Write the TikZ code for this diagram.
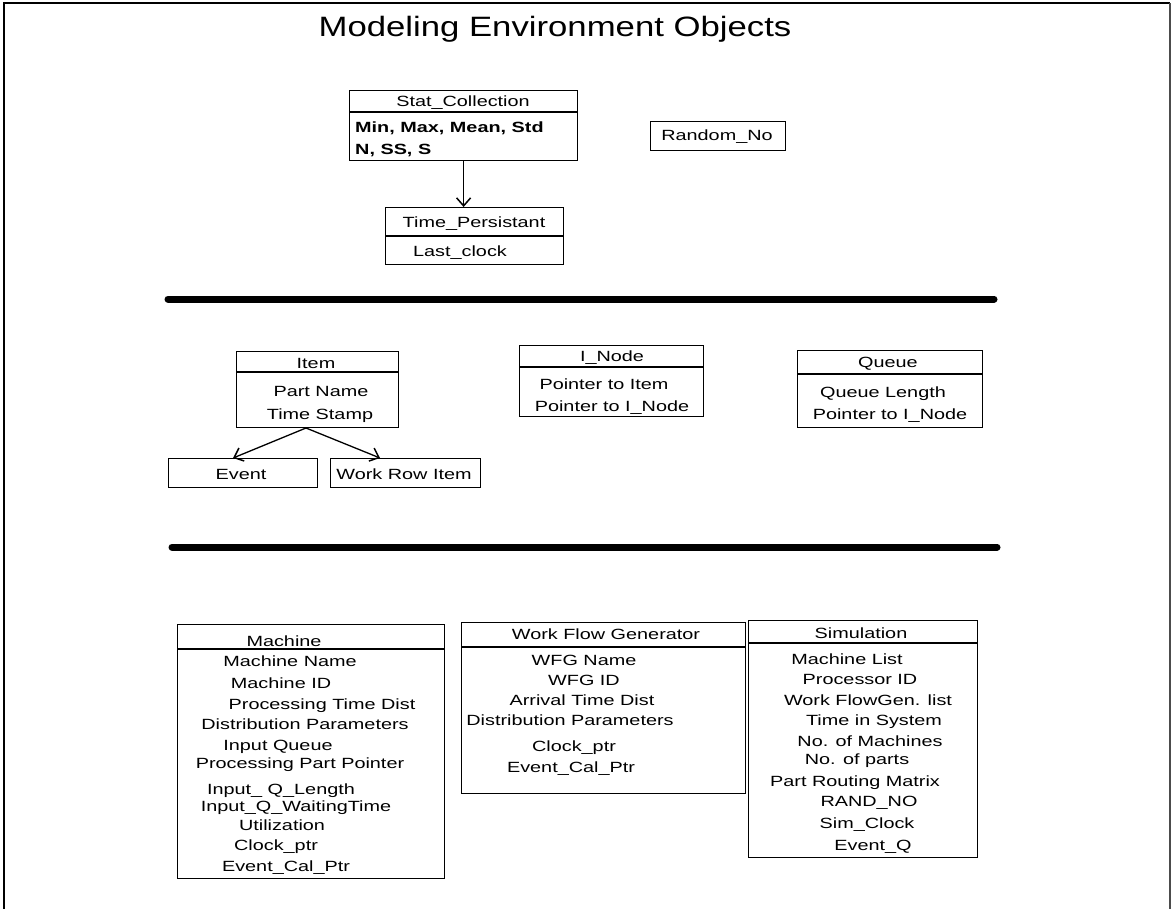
\documentclass[tikz,border=0pt]{standalone}
\usepackage{fontspec}
\setmainfont{Liberation Sans}
\newfontfamily\widefont[FakeStretch=1.34]{Liberation Sans}
\newfontfamily\headfont[FakeStretch=1.24]{Liberation Sans}
\usetikzlibrary{arrows.meta,calc}

\begin{document}
\begin{tikzpicture}[x=1pt,y=-1pt,
  cls/.style={draw, line width=1.2pt, inner sep=0pt, anchor=north west},
  rule/.style={line width=1.2pt},
  txt/.style={inner sep=0pt, anchor=base, font=\widefont\fontsize{14.8}{17}\selectfont},
  ltxt/.style={txt, anchor=base west, font=\widefont\bfseries\fontsize{14.8}{17}\selectfont},
  arr/.style={line width=1.5pt, -{Straight Barb[length=8pt,width=14pt,line width=1.5pt]}},
  sepline/.style={line width=7pt, line cap=round},
  frameline/.style={line width=1.4pt}
]
\useasboundingbox (0,0) rectangle (1172,909);

% page frame
\draw[frameline] (4,909) -- (4,3) -- (1170,3);
\draw[frameline, black!70] (1170,3) -- (1170,909);

% title
\node[inner sep=0pt, anchor=base, font=\headfont\fontsize{28}{32}\selectfont] (title) at (555,37) {Modeling Environment Objects};

% ---------------- statistics objects ----------------
\node[cls, minimum width=228pt, minimum height=70pt] (sc) at (349,90) {};
\draw[rule] ($(sc.north west)+(0,22)$) -- ($(sc.north east)+(0,22)$);
\node[txt] (sc-h) at (463,107) {Stat\_Collection};
\node[ltxt] (sc-a) at (355,133) {Min, Max, Mean, Std};
\node[ltxt] (sc-b) at (355,155) {N, SS, S};

\node[cls, minimum width=178pt, minimum height=57pt] (tp) at (385,207) {};
\draw[rule] ($(tp.north west)+(0,29)$) -- ($(tp.north east)+(0,29)$);
\node[txt] (tp-h) at (474,228) {Time\_Persistant};
\node[txt] (tp-a) at (460,257) {Last\_clock};

\draw[arr] (sc.south) -- (sc.south |- tp.north);

\node[cls, minimum width=135pt, minimum height=29pt] (rn) at (650,121) {};
\node[txt] (rn-h) at (717,141) {Random\_No};

\draw[sepline] (168,299) -- (994,299);

% ---------------- item objects ----------------
\node[cls, minimum width=162pt, minimum height=76pt] (item) at (236,351) {};
\draw[rule] ($(item.north west)+(0,21)$) -- ($(item.north east)+(0,21)$);
\node[txt] (item-h) at (316,368) {Item};
\node[txt] (item-a) at (321,396) {Part Name};
\node[txt] (item-b) at (320,419) {Time Stamp};

\node[cls, minimum width=149pt, minimum height=29pt] (ev) at (168,458) {};
\node[txt] (ev-h) at (241,479) {Event};
\node[cls, minimum width=150pt, minimum height=29pt] (wfi) at (330,458) {};
\node[txt] (wfi-h) at (404,479) {Work Row Item};

\coordinate (fork) at (306,428);
\draw[arr, line width=1.3pt] (fork) -- ($(ev.north)+(-10,0)$);
\draw[arr, line width=1.3pt] (fork) -- ($(wfi.north west)+(50,0)$);

\node[cls, minimum width=184pt, minimum height=71pt] (inode) at (519,345) {};
\draw[rule] ($(inode.north west)+(0,22)$) -- ($(inode.north east)+(0,22)$);
\node[txt] (inode-h) at (612,361) {I\_Node};
\node[txt] (inode-a) at (604,389) {Pointer to Item};
\node[txt] (inode-b) at (612,411) {Pointer to I\_Node};

\node[cls, minimum width=185pt, minimum height=77pt] (q) at (797,350) {};
\draw[rule] ($(q.north west)+(0,24)$) -- ($(q.north east)+(0,24)$);
\node[txt] (q-h) at (888,367) {Queue};
\node[txt] (q-a) at (883,397) {Queue Length};
\node[txt] (q-b) at (890,419) {Pointer to I\_Node};

\draw[sepline] (172,547) -- (997,547);

% ---------------- simulation objects ----------------
\node[cls, minimum width=267pt, minimum height=254pt] (m) at (177,624) {};
\draw[rule] ($(m.north west)+(0,25)$) -- ($(m.north east)+(0,25)$);
\node[txt] (m-h) at (284,646) {Machine};
\node[txt] (m-1) at (290,666) {Machine Name};
\node[txt] (m-2) at (281,688) {Machine ID};
\node[txt] (m-3) at (322,709) {Processing Time Dist};
\node[txt] (m-4) at (305,729) {Distribution Parameters};
\node[txt] (m-5) at (278,750) {Input Queue};
\node[txt] (m-6) at (300,768) {Processing Part Pointer};
\node[txt] (m-7) at (281,794) {Input\_ Q\_Length};
\node[txt] (m-8) at (296,811) {Input\_Q\_WaitingTime};
\node[txt] (m-9) at (282,830) {Utilization};
\node[txt] (m-10) at (276,850) {Clock\_ptr};
\node[txt] (m-11) at (286,871) {Event\_Cal\_Ptr};

\node[cls, minimum width=284pt, minimum height=171pt] (wfg) at (461,622) {};
\draw[rule] ($(wfg.north west)+(0,25)$) -- ($(wfg.north east)+(0,25)$);
\node[txt] (wfg-h) at (606,639) {Work Flow Generator};
\node[txt] (wfg-1) at (584,665) {WFG Name};
\node[txt] (wfg-2) at (584,685) {WFG ID};
\node[txt] (wfg-3) at (582,705) {Arrival Time Dist};
\node[txt] (wfg-4) at (570,725) {Distribution Parameters};
\node[txt] (wfg-5) at (574,751) {Clock\_ptr};
\node[txt] (wfg-6) at (571,772) {Event\_Cal\_Ptr};

\node[cls, minimum width=229pt, minimum height=237pt] (sim) at (748,620) {};
\draw[rule] ($(sim.north west)+(0,23)$) -- ($(sim.north east)+(0,23)$);
\node[txt] (sim-h) at (861,638) {Simulation};
\node[txt] (sim-1) at (847,664) {Machine List};
\node[txt] (sim-2) at (860,684) {Processor ID};
\node[txt] (sim-3) at (868,705) {Work FlowGen. list};
\node[txt] (sim-4) at (874,725) {Time in System};
\node[txt] (sim-5) at (870,746) {No. of Machines};
\node[txt] (sim-6) at (857,764) {No. of parts};
\node[txt] (sim-7) at (855,786) {Part Routing Matrix};
\node[txt] (sim-8) at (869,806) {RAND\_NO};
\node[txt] (sim-9) at (867,828) {Sim\_Clock};
\node[txt] (sim-10) at (873,850) {Event\_Q};
\end{tikzpicture}
\end{document}
